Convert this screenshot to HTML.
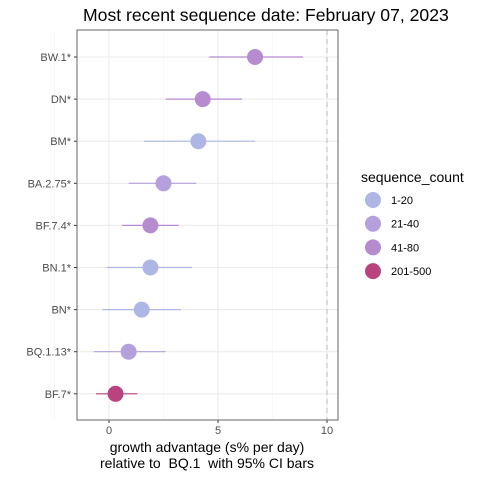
<!DOCTYPE html>
<html><head><meta charset="utf-8"><style>body{margin:0;background:#fff}svg{font-family:"Liberation Sans",sans-serif}text{white-space:pre}</style></head>
<body>
<svg id="c" width="480" height="480" xmlns="http://www.w3.org/2000/svg"></svg>
<script>
const lineages=["BW.1*","DN*","BM*","BA.2.75*","BF.7.4*","BN.1*","BN*","BQ.1.13*","BF.7*"];
const estimates=[6.7,4.3,4.1,2.5,1.9,1.9,1.5,0.9,0.3];
const lower=[4.6,2.6,1.6,0.9,0.6,-0.1,-0.3,-0.7,-0.6];
const upper=[8.9,6.1,6.7,4.0,3.2,3.8,3.3,2.6,1.3];
const groups=[2,2,0,1,2,0,0,1,3];
const groupLabels=["1-20","21-40","41-80","201-500"];
const xTicks=[0,5,10];
const colors=["#aeb6e6","#b3a0dc","#b68bd0","#b8437f"];
const NS="http://www.w3.org/2000/svg";
const svg=document.getElementById('c');
function mk(t,a,p){const e=document.createElementNS(NS,t);for(const k in a)e.setAttribute(k,a[k]);(p||svg).appendChild(e);return e;}
const L=77,R=338,T=30,B=420;
const x=v=>109+v*21.8;
const y=i=>57+i*42.1;
let e;
e=mk('rect',{x:L,y:T,width:R-L,height:B-T,fill:'#fff'});

[-2.5,2.5,7.5].forEach(v=>mk('line',{x1:x(v),x2:x(v),y1:T,y2:B,stroke:'#f3f3f3','stroke-width':0.6}));
xTicks.forEach(v=>{e=mk('line',{x1:x(v),x2:x(v),y1:T,y2:B,stroke:'#ebebeb','stroke-width':1.1});});
lineages.forEach((n,i)=>mk('line',{x1:L,x2:R,y1:y(i),y2:y(i),stroke:'#ebebeb','stroke-width':1.1}));
e=mk('line',{x1:x(10),x2:x(10),y1:T,y2:B,stroke:'#bbb','stroke-dasharray':'5,4'});

lineages.forEach((n,i)=>{
 const c=colors[groups[i]];
 e=mk('line',{x1:x(lower[i]),x2:x(upper[i]),y1:y(i),y2:y(i),stroke:c,'stroke-width':1.2});
 
 e=mk('circle',{cx:x(estimates[i]),cy:y(i),r:8,fill:c});
 
 mk('line',{x1:L-3,x2:L,y1:y(i),y2:y(i),stroke:'#333'});
 e=mk('text',{x:L-6,y:y(i)+4,'text-anchor':'end','font-size':11,fill:'#4d4d4d'});e.textContent=n;
 
});
xTicks.forEach(v=>{mk('line',{x1:x(v),x2:x(v),y1:B,y2:B+3,stroke:'#333'});
 e=mk('text',{x:x(v),y:B+14,'text-anchor':'middle','font-size':11,fill:'#4d4d4d'});e.textContent=v;
 });
e=mk('rect',{x:L,y:T,width:R-L,height:B-T,fill:'none',stroke:'#666','stroke-width':1});

e=mk('text',{x:207,y:452,'text-anchor':'middle','font-size':14});e.textContent='growth advantage (s% per day)';

e=mk('text',{x:207,y:468,'text-anchor':'middle','font-size':14});e.textContent='relative to  BQ.1  with 95% CI bars';

e=mk('text',{x:83,y:21,'font-size':17.6});e.textContent='Most recent sequence date: February 07, 2023';

e=mk('text',{x:361,y:182,'font-size':14});e.textContent='sequence_count';

groupLabels.forEach((g,k)=>{const yy=200+k*23.7;
 e=mk('circle',{cx:373,cy:yy,r:8,fill:colors[k]});
 e=mk('text',{x:391,y:yy+4,'font-size':11});e.textContent=g;});
</script>
</body></html>
